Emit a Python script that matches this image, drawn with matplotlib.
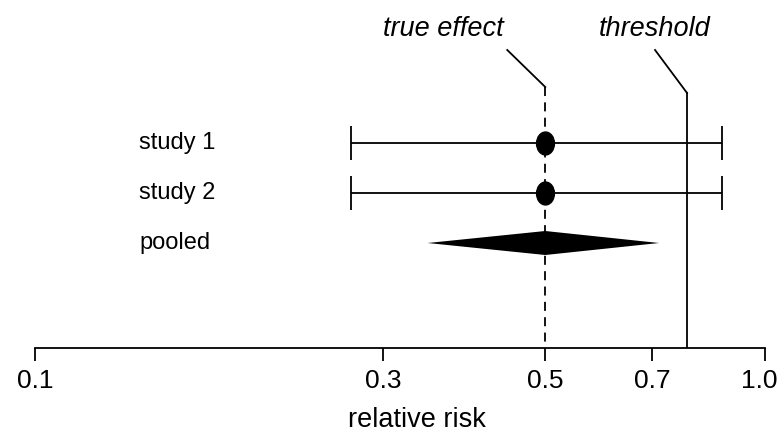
import numpy as np
import matplotlib.pyplot as plt
import matplotlib.transforms as mtransforms
from matplotlib.path import Path

plt.rcParams['font.family'] = ['Liberation Sans', 'DejaVu Sans']

# datos del forest plot
estudios = ["study 1", "study 2"]
rr = [0.5, 0.5]
ic_inf = [0.271, 0.271]
ic_sup = [0.873, 0.873]

pooled_nombre = "pooled"
pooled_rr = 0.5
pooled_inf = 0.345
pooled_sup = 0.716

efecto_real = 0.5
umbral = 0.782

ticks = [0.1, 0.3, 0.5, 0.7, 1.0]
tick_labels = ["0.1", "0.3", "0.5", "0.7", "1.0"]

fig = plt.figure(figsize=(7.8, 4.33), dpi=100)
ax = fig.add_axes([35/780, (433-348)/433, 730/780, 348/433])
ax.set_xscale("log")
ax.set_xlim(0.1, 1.0)
# filas: 0 = study 1, 1 = study 2, 2 = pooled (cada fila ~50 px)
ax.set_ylim(4.1, -2.86)

# lineas verticales (efecto real discontinua, umbral continua)
ax.plot([efecto_real, efecto_real], [-1.12, 4.1], color="black", lw=1.3,
        ls=(0, (5, 3.5)), zorder=1)
ax.plot([umbral, umbral], [-1.0, 4.1], color="black", lw=1.3, zorder=1)

# lineas guia hacia los textos
ax.plot([efecto_real * 10**(-38/730), efecto_real], [-1.86, -1.12],
        color="black", lw=1.3)
ax.plot([umbral * 10**(-32/730), umbral], [-1.86, -1.0],
        color="black", lw=1.3)

ax.text(efecto_real * 10**(-42/730), -2.28, "true effect", ha="right",
        va="center", style="italic", fontsize=19.5)
ax.text(umbral * 10**(-32/730), -2.28, "threshold", ha="center",
        va="center", style="italic", fontsize=19.5)

# intervalos de confianza de los estudios
filas = np.arange(len(estudios))
ax.errorbar(rr, filas,
            xerr=[np.array(rr) - np.array(ic_inf), np.array(ic_sup) - np.array(rr)],
            fmt="none", ecolor="black", elinewidth=1.3, capsize=12, capthick=1.3)

# punto eliptico
circ = Path.unit_circle()
elipse = Path(circ.vertices * [0.78, 1.0], circ.codes)
ax.plot(rr, filas, ls="none", marker=elipse, markersize=16.5,
        color="black", zorder=3)

# diamante del estimado combinado
fila_p = len(estudios)
ax.fill([pooled_inf, pooled_rr, pooled_sup, pooled_rr],
        [fila_p, fila_p - 0.24, fila_p, fila_p + 0.24], color="black",
        zorder=3, lw=0)

# etiquetas de filas
trans = mtransforms.blended_transform_factory(fig.transFigure, ax.transData)
for i, nombre in enumerate(estudios + [pooled_nombre]):
    ax.text(139/780, i, nombre, transform=trans, fontsize=17,
            ha="left", va="center")

for sp in ["top", "right", "left"]:
    ax.spines[sp].set_visible(False)
ax.spines["bottom"].set_linewidth(1.3)
ax.set_yticks([])
ax.set_xticks(ticks)
ax.set_xticklabels(tick_labels, fontsize=19)
ax.xaxis.set_minor_locator(plt.NullLocator())
ax.tick_params(axis="x", length=9, width=1.3, pad=6)
# desplazar un poco el ultimo rotulo para que no se corte
ultimo = ax.get_xticklabels()[-1]
ultimo.set_transform(ultimo.get_transform() +
                     mtransforms.ScaledTranslation(-6/100, 0, fig.dpi_scale_trans))
ax.set_xlabel("relative risk", fontsize=19.5, va="center")
ax.xaxis.set_label_coords((417-35)/730, -(420-348)/348)

plt.savefig("out.png", dpi=100)
